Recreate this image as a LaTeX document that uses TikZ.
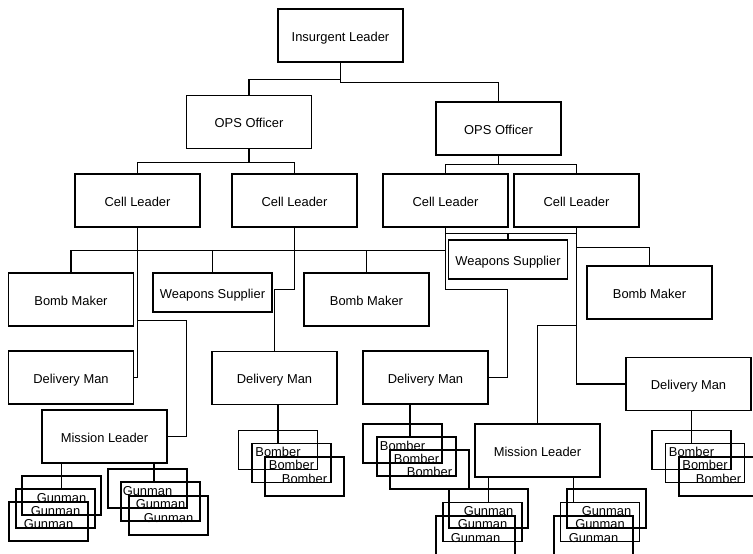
\documentclass[tikz,border=0pt]{standalone}
\usepackage{fontspec}
\setmainfont{Liberation Sans}
\usepackage{tikz}

\begin{document}
\begin{tikzpicture}[x=1pt,y=-1pt,line width=1.2pt,
  font=\fontsize{12.9}{14}\selectfont,
  post/.style={draw,inner sep=0pt,minimum width=125pt,minimum height=53pt,text height=11.2pt,text depth=0pt},
  supplier/.style={post,minimum width=119pt,minimum height=39pt},
  stackbox/.style={draw,inner sep=0pt,minimum width=79pt,minimum height=39pt,text height=13.2pt,text depth=0pt}]
\clip (0,0) rectangle (753,554);
\node[post] (lead) at (340.5,35.5) {Insurgent Leader};
\node[post] (ops1) at (249,122) {OPS Officer};
\node[post] (ops2) at (498.5,128.5) {OPS Officer};
\node[post] (cell1) at (137.5,200.5) {Cell Leader};
\node[post] (cell2) at (294.5,200.5) {Cell Leader};
\node[post] (cell3) at (445.5,200.5) {Cell Leader};
\node[post] (cell4) at (576.5,200.5) {Cell Leader};
\node[post] (bm1) at (71,299.5) {Bomb Maker};
\node[supplier] (ws1) at (212.5,292.5) {Weapons Supplier};
\node[post] (bm2) at (366.5,299.5) {Bomb Maker};
\node[supplier] (ws2) at (508,259.5) {Weapons Supplier};
\node[post] (bm3) at (649.5,292.5) {Bomb Maker};
\node[post] (dm1) at (71,377.5) {Delivery Man};
\node[post] (dm2) at (274.5,378) {Delivery Man};
\node[post] (dm3) at (425.5,377.5) {Delivery Man};
\node[post] (dm4) at (688.5,384) {Delivery Man};
\node[post] (ml1) at (104.5,436.5) {Mission Leader};
\node[post] (ml2) at (537.5,450.5) {Mission Leader};
% gunmen and bombers
\node[stackbox] (gA1) at (61.5,495.5) {Gunman};
\node[stackbox] (gA2) at (55.5,508.5) {Gunman};
\node[stackbox] (gA3) at (48.5,521.5) {Gunman};
\node[stackbox] (gB1) at (147.5,488.5) {Gunman};
\node[stackbox] (gB2) at (160.5,501.5) {Gunman};
\node[stackbox] (gB3) at (168.5,515.5) {Gunman};
\node[stackbox] (bC1) at (278,450) {Bomber};
\node[stackbox] (bC2) at (291.5,463) {Bomber};
\node[stackbox] (bC3) at (304.5,476.5) {Bomber};
\node[stackbox] (bF1) at (402.5,443.5) {Bomber};
\node[stackbox] (bF2) at (416.5,456.5) {Bomber};
\node[stackbox] (bF3) at (429.5,469.5) {Bomber};
\node[stackbox] (gD1) at (488.5,508.5) {Gunman};
\node[stackbox] (gD2) at (482.5,522) {Gunman};
\node[stackbox] (gD3) at (475.5,535.5) {Gunman};
\node[stackbox] (gE1) at (606.5,508.5) {Gunman};
\node[stackbox] (gE2) at (600,522) {Gunman};
\node[stackbox] (gE3) at (593.5,535.5) {Gunman};
\node[stackbox] (bG1) at (691.5,450) {Bomber};
\node[stackbox] (bG2) at (705,463) {Bomber};
\node[stackbox] (bG3) at (718.5,476.5) {Bomber};
% chain of command
\draw (lead.south) -- ++(0,17) -| (ops1.north);
\draw (lead.south) -- ++(0,20) -| (ops2.north);
\draw (ops1.south) -- ++(0,13) -| (cell1.north);
\draw (ops1.south) -- ++(0,13) -| (cell2.north);
\draw (ops2.south) -- ++(0,9) -| (cell3.north);
\draw (ops2.south) -- ++(0,9) -| (cell4.north);
\draw (cell1.south) -- ++(0,23) -| (bm1.north);
\draw (cell1.south) -- ++(0,23) -| (bm2.north);
\draw (cell3.south) -- ++(0,23) -| (ws1.north);
\draw (cell1.south) |- (dm1.east);
\draw (cell1.south) |- ++(49,93) |- (ml1.east);
\draw (cell2.south) -- ++(0,62) -| (dm2.north);
\draw (cell3.south) -- ++(0,6) -| (ws2.north);
\draw (cell4.south) -- ++(0,6) -| (ws2.north);
\draw (cell3.south) |- ++(62,62) |- (dm3.east);
\draw (cell4.south) -- ++(0,20) -| (bm3.north);
\draw (cell4.south) -- ++(0,98) -| (ml2.north);
\draw (cell4.south) |- (dm4.west);
\draw (gA1.north |- ml1.south) -- (gA1.north |- gA2.north);
\draw ([xshift=-6.5pt]gB2.north |- ml1.south) -- ([xshift=-6.5pt]gB2.north);
\draw (bC1.north |- dm2.south) -- (bC1.north |- bC2.north);
\draw ([xshift=-6.5pt]bF2.north |- dm3.south) -- ([xshift=-6.5pt]bF2.north);
\draw (gD1.north |- ml2.south) -- (gD1.north |- gD2.north);
\draw ([xshift=7pt]gE1.north west |- ml2.south) -- ([xshift=7pt]gE1.north west |- gE2.north);
\draw (bG1.north |- dm4.south) -- (bG1.north |- bG2.north);
\end{tikzpicture}
\end{document}
